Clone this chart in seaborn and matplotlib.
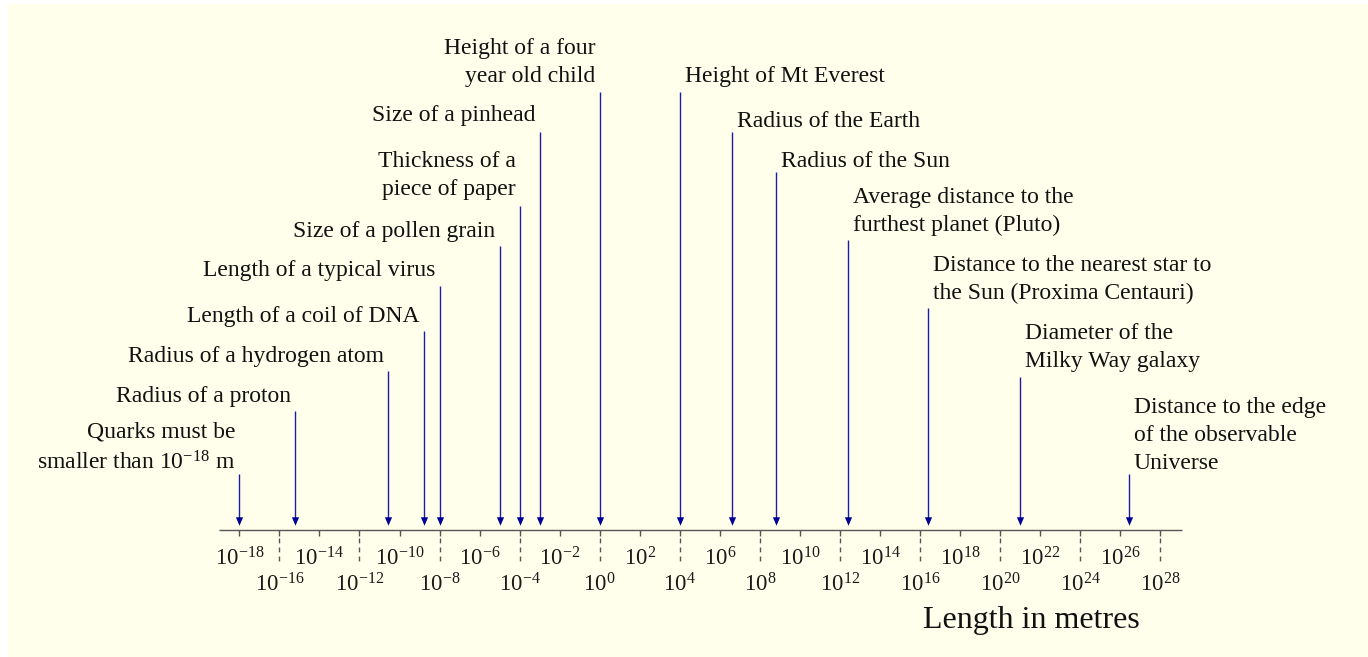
import numpy as np
import pandas as pd
import matplotlib
matplotlib.use("Agg")
import matplotlib.pyplot as plt
from matplotlib.patches import Rectangle
import seaborn as sns

# ---------------- data ----------------
labels = [
    "Quarks must be\nsmaller than $10^{-18}$ m",
    "Radius of a proton",
    "Radius of a hydrogen atom",
    "Length of a coil of DNA",
    "Length of a typical virus",
    "Size of a pollen grain",
    "Thickness of a\npiece of paper",
    "Size of a pinhead",
    "Height of a four\nyear old child",
    "Height of Mt Everest",
    "Radius of the Earth",
    "Radius of the Sun",
    "Average distance to the\nfurthest planet (Pluto)",
    "Distance to the nearest star to\nthe Sun (Proxima Centauri)",
    "Diameter of the\nMilky Way galaxy",
    "Distance to the edge\nof the observable\nUniverse",
]
lengths_m = [1e-18, 6.3e-16, 2.6e-11, 1.6e-9, 1e-8, 1e-5, 1e-4, 1e-3,
             1.0, 1e4, 4.1e6, 6.2e8, 2.6e12, 2.6e16, 1e21, 2.6e26]
tick_exponents = list(range(-18, 29, 2))
axis_title = "Length in metres"

# ---------------- layout (pixels) ----------------
label_align = ["right"] * 9 + ["left"] * 7
arrow_top_px = [474, 411, 371, 331, 286, 246, 206, 132, 92,
                92, 132, 172, 240, 308, 377, 474]
text_baseline_px = [469, 402, 362, 322, 276, 237, 195, 121, 82,
                    82, 127, 167, 231, 299, 367, 469]

W, H = 1368, 657
X0_PX, PX_PER_DEC = 599.7, 20.02
AXIS_Y = 530
TIP_Y = 525

sns.set_theme(style="white")
plt.rcParams["font.family"] = ["Liberation Serif", "DejaVu Serif"]
plt.rcParams["mathtext.fontset"] = "custom"
plt.rcParams["mathtext.rm"] = "Liberation Serif"
plt.rcParams["mathtext.it"] = "Liberation Serif:italic"
plt.rcParams["mathtext.default"] = "regular"

fig = plt.figure(figsize=(W / 100, H / 100), dpi=100, facecolor="white")
ax = fig.add_axes([0, 0, 1, 1])
ax.set_facecolor("none")
ax.add_patch(Rectangle((8 / W, 0), 1 - 8 / W, 1 - 4 / H,
                       transform=ax.transAxes, facecolor="#FFFFEC",
                       edgecolor="none", zorder=0, clip_on=False))

axis_col = "#555555"
# main axis line
ax.hlines(AXIS_Y, 10 ** -19.0, 10 ** 29.1, color=axis_col, lw=1.0, zorder=2)

# ticks and tick labels
for e in tick_exponents:
    xv = 10.0 ** e
    ax.vlines(xv, AXIS_Y, AXIS_Y + 6, color=axis_col, lw=1.0, zorder=2)
    upper = ((e + 18) % 4 == 0)
    if not upper:
        ax.plot([xv, xv], [AXIS_Y + 8, AXIS_Y + 32], color=axis_col, lw=1.0,
                linestyle=(0, (3.5, 3)), zorder=2)
    ax.text(xv, 566 if upper else 592, f"$10^{{{e}}}$", ha="center",
            va="baseline", fontsize=16.5, color="#1a1a1a", zorder=5)

ax.text(1140 / W, 1 - 628 / H, axis_title, transform=ax.transAxes,
        ha="right", va="baseline", fontsize=23, color="#111111", zorder=5)

# arrows
stem_col = "#1c1ca0"
head_col = "#000096"
ax.vlines(lengths_m, arrow_top_px, TIP_Y - 6, color=stem_col, lw=1.0, zorder=3)

df = pd.DataFrame({"length": lengths_m, "y": [TIP_Y - 4.2] * len(lengths_m)})
head = [(-3.6, 4.2), (3.6, 4.2), (0.0, -4.2), (-3.6, 4.2)]
sns.scatterplot(data=df, x="length", y="y", marker=head, s=37,
                color=head_col, linewidth=0, ax=ax, zorder=4, legend=False)

ax.set_xscale("log")
ax.set_xlim(10 ** (-X0_PX / PX_PER_DEC), 10 ** ((W - X0_PX) / PX_PER_DEC))
ax.set_ylim(H, 0)
ax.axis("off")

# labels
for lab, L, al, base in zip(labels, lengths_m, label_align, text_baseline_px):
    dx = -4 if al == "right" else 5
    ax.annotate(lab, xy=(L, base), xytext=(dx, 0), textcoords="offset pixels",
                ha=al, va="baseline", multialignment=al, fontsize=17,
                linespacing=1.45, color="#111111", zorder=5)

fig.savefig("out.png", dpi=100, facecolor=fig.get_facecolor())
